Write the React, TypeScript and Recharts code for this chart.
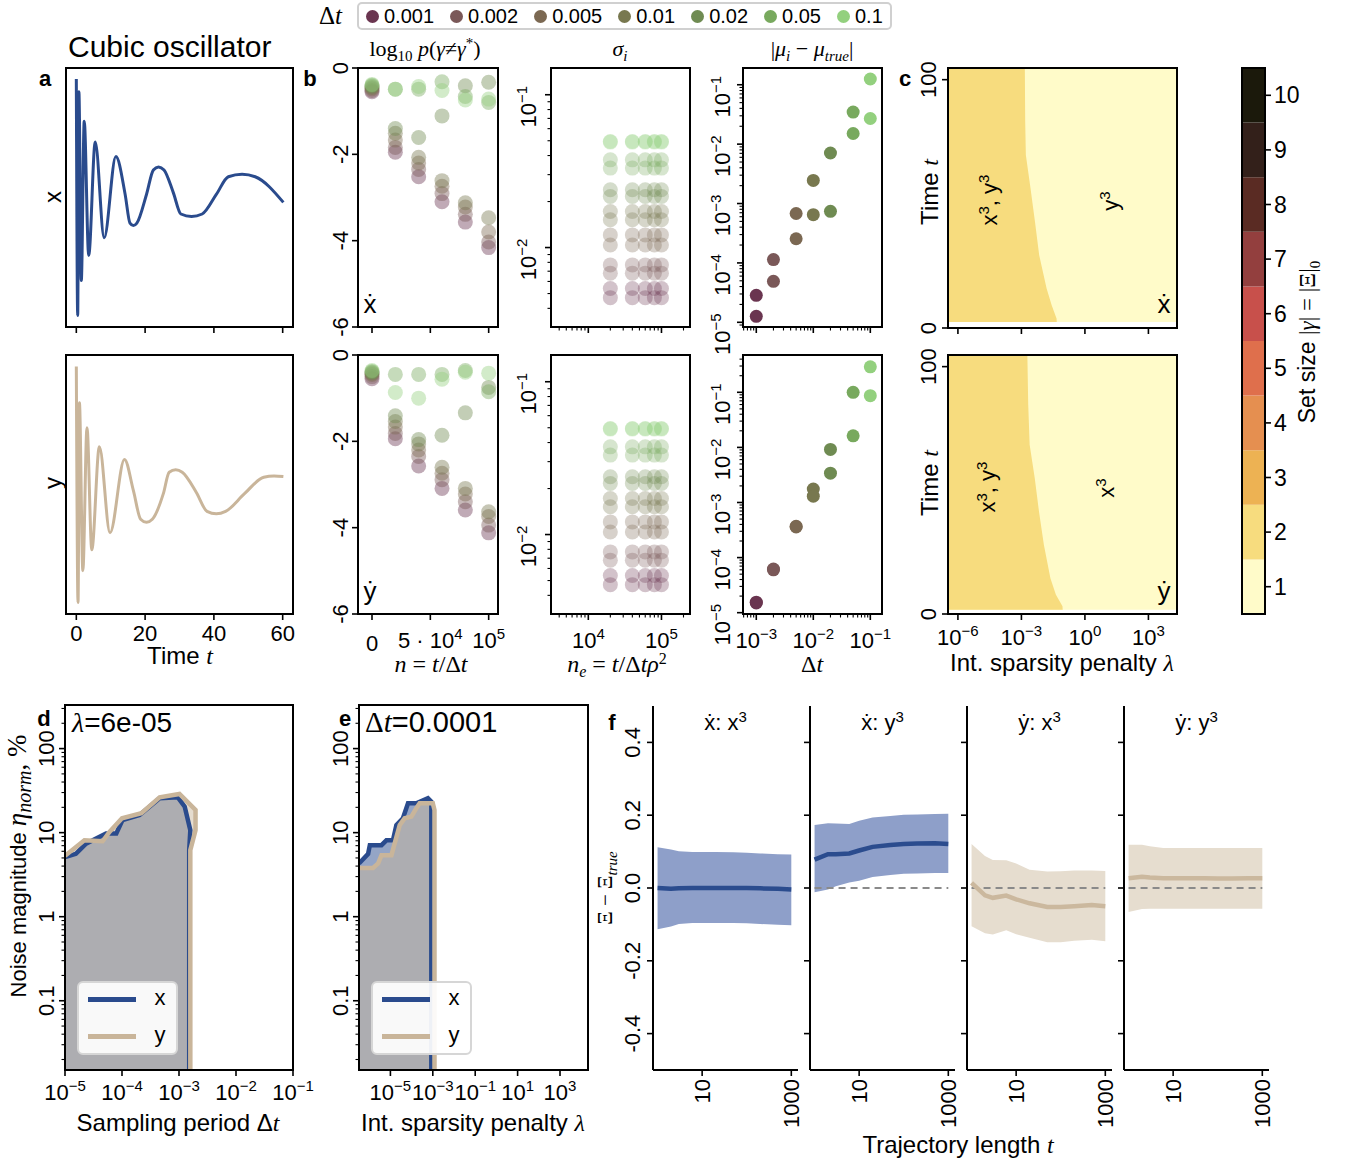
import React from 'react';
import {
  LineChart, Line, XAxis, YAxis, ScatterChart, Scatter, ComposedChart, Area,
  BarChart, Bar, Legend, ReferenceLine,
} from 'recharts';

const SANS = "'Liberation Sans', Arial, Helvetica, 'DejaVu Sans', sans-serif";
const SERIF = "'Liberation Serif', 'DejaVu Serif', 'Times New Roman', serif";

// ================= DATA =================
// panel a: trajectories
const TIME_TICKS = [0, 20, 40, 60];
const TRAJ_X_T = [0, 0.4, 0.75, 1.45, 2.3, 3.6, 5.5, 8.1, 11.5, 14.2, 15.6, 16.6, 17.6, 20.4, 22.4, 23.9, 25.5, 28.2, 30.4, 33.5, 36.6, 40.7, 44.2, 48.2, 52.0, 60.2];
const TRAJ_X_V = [1.94, -1.93, 1.73, -1.36, 1.25, -0.95, 0.91, -0.66, 0.67, 0.05, -0.42, -0.46, -0.42, 0.05, 0.45, 0.5, 0.45, 0.08, -0.27, -0.31, -0.27, 0.05, 0.34, 0.38, 0.34, -0.08];
const TRAJ_Y_T = [0, 0.5, 0.9, 1.9, 3.1, 4.5, 6.7, 9.8, 14.0, 16.6, 18.7, 20.4, 22.1, 25.3, 27.0, 28.9, 30.8, 34.9, 38.0, 40.7, 43.4, 48.9, 54.5, 57.5, 60.2];
const TRAJ_Y_V = [1.93, -1.93, 1.34, -1.41, 0.93, -1.07, 0.62, -0.79, 0.41, -0.1, -0.57, -0.62, -0.57, -0.15, 0.2, 0.24, 0.2, -0.13, -0.44, -0.48, -0.44, -0.15, 0.12, 0.14, 0.13];

// sampling periods
const DT_VALUES = [0.001, 0.002, 0.005, 0.01, 0.02, 0.05, 0.1];
const DT_LABELS = ['0.001', '0.002', '0.005', '0.01', '0.02', '0.05', '0.1'];
const DT_COLORS = ['#6a3550', '#7a5858', '#7b6852', '#78784f', '#6f8b52', '#78a95e', '#93d07e'];

// panel b: log10 p(gamma != gamma*)
const N_VALUES = [0, 20000, 40000, 60000, 80000, 100000];
const N_TICKS = [0, 50000, 100000];
const LOGP_TICKS = [0, -2, -4, -6];
const LOGP_XDOT = [
  [-0.55, -1.95, -2.52, -3.1, -3.57, -4.16],
  [-0.52, -1.84, -2.35, -2.91, -3.39, -4.03],
  [-0.48, -1.67, -2.2, -2.74, -3.22, -3.8],
  [-0.45, -1.51, -2.07, -2.61, -3.12, -3.47],
  [-0.42, -1.4, -1.61, -1.11, -0.41, -0.33],
  [-0.4, -0.49, -0.49, -0.32, -0.66, -0.8],
  [-0.38, -0.49, -0.43, -0.52, -0.74, -0.72],
];
const LOGP_YDOT = [
  [-0.55, -1.94, -2.57, -3.09, -3.59, -4.12],
  [-0.5, -1.82, -2.35, -2.89, -3.4, -3.94],
  [-0.45, -1.67, -2.2, -2.74, -3.22, -3.74],
  [-0.42, -1.54, -2.06, -2.6, -3.09, -3.63],
  [-0.4, -1.41, -1.96, -1.86, -1.34, -0.75],
  [-0.38, -0.45, -0.45, -0.45, -0.36, -0.85],
  [-0.36, -0.87, -1.0, -0.56, -0.4, -0.42],
];

// sigma_i
const NE_VALUES = [20000, 40000, 60000, 80000, 100000];
const SIGMA_XDOT = [
  [0.0054, 0.0047], [0.0077, 0.0068], [0.0121, 0.0104], [0.0172, 0.0152],
  [0.0239, 0.0216], [0.0375, 0.0331], [0.0494, 0.049],
];
const SIGMA_YDOT = [
  [0.0054, 0.0047], [0.0077, 0.0068], [0.0121, 0.0104], [0.0172, 0.0152],
  [0.0239, 0.0216], [0.0375, 0.0331], [0.0494, 0.049],
];

// |mu_i - mu_true|
const MU_XDOT = [
  [2.85e-5, 1.26e-5], [1.14e-4, 4.9e-5], [6.8e-4, 2.55e-4], [2.45e-3, 6.5e-4],
  [7.1e-3, 7.4e-4], [0.0346, 0.0151], [0.125, 0.027],
];
const MU_YDOT = [
  [1.55e-5, 1.5e-5], [6.2e-5, 6.0e-5], [3.7e-4, 3.6e-4], [1.75e-3, 1.3e-3],
  [9.2e-3, 3.4e-3], [0.1, 0.0162], [0.29, 0.087],
];

// panel c: set-size maps
const LAMBDA_RANGE = [3.4e-7, 2.24e4];
const LAMBDA_TICKS = [1e-6, 1e-3, 1, 1e3];
const T_MAX = 104.7;
const T_TICKS = [0, 100];
const BOUND_XDOT_LAMBDA = [3.4e-7, 1.45e-3, 1.51e-3, 1.62e-3, 2.69e-3, 4.37e-3, 6.92e-3, 1.55e-2, 2.69e-2, 4.57e-2, 4.68e-2];
const BOUND_XDOT_T = [104.7, 104.7, 83.2, 69.7, 56.3, 42.8, 29.3, 15.9, 9.2, 3.8, 2.4];
const T_START_XDOT = 2.4;
const BOUND_YDOT_LAMBDA = [3.4e-7, 1.91e-3, 2.09e-3, 2.45e-3, 4.27e-3, 6.76e-3, 1.15e-2, 2.34e-2, 4.27e-2, 8.71e-2, 8.91e-2];
const BOUND_YDOT_T = [104.7, 104.7, 85, 68.4, 54.9, 41.4, 28.0, 14.5, 7.8, 3.1, 1.7];
const T_START_YDOT = 1.7;
const SET_SIZES = [1, 2, 3, 4, 5, 6, 7, 8, 9, 10];
const SET_COLORS = ['#fffbc9', '#f7dc7e', '#edb253', '#e58f50', '#df6f4c', '#c8504b', '#933f3e', '#5a2b23', '#33201a', '#1b190b'];

// panels d / e
const XY_NAMES = ['x', 'y'];
const XY_COLORS = ['#2a4b8d', '#c9b59a'];
const ETA_RANGE = [0.015, 330];
const D_DT_RANGE = [1e-5, 1e-1];
const D_DT_X = [1e-5, 1.55e-5, 2.34e-5, 5.25e-5, 7.94e-5, 1.02e-4, 2.04e-4, 4.57e-4, 9.55e-4, 1.26e-3, 1.58e-3, 1.51e-3, 1.51e-3];
const D_ETA_X = [5.1, 5.6, 7.4, 9.8, 9.8, 14.1, 16.2, 25.7, 26.3, 20.4, 10.7, 6.2, 0.015];
const D_DT_Y = [1e-5, 2.19e-5, 4.57e-5, 6.03e-5, 1e-4, 2.19e-4, 4.57e-4, 1.02e-3, 1.95e-3, 1.95e-3, 1.58e-3, 1.58e-3];
const D_ETA_Y = [5.3, 8.1, 7.9, 10.2, 14.8, 17.0, 26.3, 28.8, 18.6, 10.7, 6.2, 0.015];
const E_LAMBDA_RANGE = [3.3e-7, 2.09e4];
const E_LAMBDA_TICKS = [1e-5, 1e-3, 1e-1, 1e1, 1e3];
const E_LAM_X = [3.3e-7, 8.9e-7, 1.07e-6, 3.8e-6, 6.46e-6, 1.32e-5, 1.91e-5, 3.89e-5, 6.76e-5, 1.66e-4, 5.89e-4, 8.51e-4, 8.51e-4];
const E_ETA_X = [4.3, 5.6, 7.1, 7.1, 8.1, 8.1, 12.3, 14.8, 22.4, 22.4, 25.7, 23.4, 0.015];
const E_LAM_Y = [3.3e-7, 1.51e-6, 2.63e-6, 3.8e-6, 1.12e-5, 2.75e-5, 4.68e-5, 9.77e-5, 1.66e-4, 2.4e-4, 1e-3, 1.2e-3, 1.2e-3];
const E_ETA_Y = [3.8, 3.8, 4.3, 5.4, 5.4, 12.3, 14.8, 15.5, 19.5, 22.4, 22.4, 18.6, 0.015];

// panel f
const TRAJ_LEN = [1, 2, 3, 6, 10, 20, 50, 100, 200, 500, 1000];
const TRAJ_LEN_RANGE = [0.79, 1413];
const TRAJ_LEN_TICKS = [10, 1000];
const DEV_TICKS = [-0.4, -0.2, 0, 0.2, 0.4];
const F_TITLE_EQ = ['ẋ', 'ẋ', 'ẏ', 'ẏ'];
const F_TITLE_TERM = ['x', 'y', 'x', 'y'];
const XDOT_X3_MEAN = [0.0, -0.002, -0.001, 0.0, 0.0, 0.0, 0.0, 0.0, -0.001, -0.002, -0.004];
const XDOT_X3_LO = [-0.113, -0.106, -0.099, -0.096, -0.096, -0.096, -0.096, -0.097, -0.099, -0.101, -0.102];
const XDOT_X3_HI = [0.112, 0.106, 0.101, 0.099, 0.099, 0.099, 0.098, 0.097, 0.095, 0.093, 0.092];
const XDOT_Y3_MEAN = [0.078, 0.093, 0.093, 0.095, 0.103, 0.113, 0.118, 0.121, 0.122, 0.123, 0.121];
const XDOT_Y3_LO = [-0.012, -0.004, 0.005, 0.015, 0.02, 0.03, 0.036, 0.039, 0.04, 0.041, 0.041];
const XDOT_Y3_HI = [0.173, 0.178, 0.177, 0.176, 0.185, 0.194, 0.198, 0.201, 0.202, 0.203, 0.204];
const YDOT_X3_MEAN = [0.014, -0.02, -0.027, -0.021, -0.031, -0.042, -0.052, -0.052, -0.05, -0.047, -0.05];
const YDOT_X3_LO = [-0.105, -0.124, -0.128, -0.116, -0.127, -0.137, -0.149, -0.149, -0.145, -0.142, -0.146];
const YDOT_X3_HI = [0.121, 0.088, 0.077, 0.076, 0.067, 0.05, 0.045, 0.046, 0.048, 0.048, 0.047];
const YDOT_Y3_MEAN = [0.027, 0.031, 0.029, 0.027, 0.027, 0.027, 0.027, 0.026, 0.026, 0.027, 0.027];
const YDOT_Y3_LO = [-0.066, -0.058, -0.057, -0.057, -0.057, -0.057, -0.057, -0.057, -0.057, -0.057, -0.057];
const YDOT_Y3_HI = [0.119, 0.119, 0.115, 0.11, 0.11, 0.11, 0.11, 0.11, 0.11, 0.11, 0.11];

// ================= LAYOUT =================
type Box = { x0: number; y0: number; x1: number; y1: number };
const BOXES: Record<string, Box> = {
  aTop: { x0: 66, y0: 68, x1: 293, y1: 327 },
  aBot: { x0: 66, y0: 355, x1: 293, y1: 614 },
  bTop: { x0: 358, y0: 68, x1: 498, y1: 327 },
  bBot: { x0: 358, y0: 355, x1: 498, y1: 614 },
  sTop: { x0: 551, y0: 68, x1: 690, y1: 327 },
  sBot: { x0: 551, y0: 355, x1: 690, y1: 614 },
  mTop: { x0: 743, y0: 68, x1: 882, y1: 327 },
  mBot: { x0: 743, y0: 355, x1: 882, y1: 614 },
  cTop: { x0: 948, y0: 68, x1: 1177, y1: 328 },
  cBot: { x0: 948, y0: 355, x1: 1177, y1: 614 },
  cbar: { x0: 1242, y0: 68, x1: 1265, y1: 614 },
  d: { x0: 65, y0: 705, x1: 293, y1: 1070 },
  e: { x0: 359, y0: 705, x1: 588, y1: 1070 },
};
const F_LEFTS = [653, 810, 967, 1124];
const F_W = 145;
const F_Y0 = 706;
const F_Y1 = 1070;

const MT = 10;
const MR = 30;
function geom(b: Box, yw: number, xh: number) {
  return {
    left: b.x0 - yw,
    top: b.y0 - MT,
    width: b.x1 - b.x0 + yw + MR,
    height: b.y1 - b.y0 + MT + xh,
    margin: { top: MT, right: MR, bottom: 0, left: 0 },
  };
}
const pos = (g: any): React.CSSProperties => ({ position: 'absolute', left: g.left, top: g.top });

const L10 = (v: number) => Math.log10(v);
const isInt = (v: number) => Math.abs(v - Math.round(v)) < 1e-6;
function logTicks(lo: number, hi: number, minor = true) {
  const out: number[] = [];
  for (let d = Math.floor(lo); d <= Math.ceil(hi); d++) {
    const ks = minor ? [1, 2, 3, 4, 5, 6, 7, 8, 9] : [1];
    for (const k of ks) {
      const v = d + Math.log10(k);
      if (v >= lo - 1e-9 && v <= hi + 1e-9) out.push(v);
    }
  }
  return out;
}

const TICK_FS = 22;
function expLabel(e: number) {
  const s = e < 0 ? `\u2212${-e}` : `${e}`;
  return [<tspan key="m">10</tspan>, <tspan key="e" dy={-9} fontSize={15}>{s}</tspan>];
}

function leftTick(opt: { major?: (v: number) => boolean; label?: (v: number) => any; dx: number; dy?: number; fs?: number }) {
  return (p: any) => {
    const v = p.payload.value;
    const maj = opt.major ? opt.major(v) : true;
    const L = maj ? 6 : 3.5;
    const lab = maj && opt.label ? opt.label(v) : null;
    const fs = opt.fs ?? TICK_FS;
    const tx = p.x - opt.dx;
    const ty = p.y + (opt.dy ?? 0);
    return (
      <g>
        <line x1={p.x} x2={p.x - L} y1={p.y} y2={p.y} stroke="#000" strokeWidth={maj ? 1.6 : 1.1} />
        {lab != null && (
          <text x={tx} y={ty + fs * 0.35} transform={`rotate(-90 ${tx} ${ty})`} textAnchor="middle" fontFamily={SANS} fontSize={fs} fill="#000">{lab}</text>
        )}
      </g>
    );
  };
}

function bottomTick(opt: { major?: (v: number) => boolean; label?: (v: number) => any; dy: number; fs?: number; rotate?: boolean }) {
  return (p: any) => {
    const v = p.payload.value;
    const maj = opt.major ? opt.major(v) : true;
    const L = maj ? 6 : 3.5;
    const lab = maj && opt.label ? opt.label(v) : null;
    const fs = opt.fs ?? TICK_FS;
    const ty = p.y + opt.dy;
    return (
      <g>
        <line x1={p.x} x2={p.x} y1={p.y} y2={p.y + L} stroke="#000" strokeWidth={maj ? 1.6 : 1.1} />
        {lab != null && !opt.rotate && (
          <text x={p.x} y={ty + fs * 0.35} textAnchor="middle" fontFamily={SANS} fontSize={fs} fill="#000">{lab}</text>
        )}
        {lab != null && opt.rotate && (
          <text x={p.x} y={ty + fs * 0.35} transform={`rotate(-90 ${p.x} ${ty})`} textAnchor="end" fontFamily={SANS} fontSize={fs} fill="#000">{lab}</text>
        )}
      </g>
    );
  };
}

function rightTick(p: any) {
  const fs = 23;
  return (
    <g>
      <line x1={p.x} x2={p.x + 6} y1={p.y} y2={p.y} stroke="#000" strokeWidth={1.6} />
      <text x={p.x + 9} y={p.y + fs * 0.35} textAnchor="start" fontFamily={SANS} fontSize={fs} fill="#000">{Math.round(p.payload.value + 0.5)}</text>
    </g>
  );
}

const axisCommon = { axisLine: false, tickLine: false, tickSize: 0, tickMargin: 0, interval: 0 as const, allowDataOverflow: true };

const dotShape = (r: number, color: string, op: number) => (p: any) => (
  <circle cx={p.cx} cy={p.cy} r={r} fill={color} fillOpacity={op} />
);

// ================= LEGENDS =================
function DtLegend() {
  return (
    <div style={{ display: 'flex', alignItems: 'center', fontFamily: SANS, color: '#000' }}>
      <div style={{ fontFamily: SERIF, fontSize: 25, width: 38 }}>Δ<i>t</i></div>
      <div style={{ display: 'flex', alignItems: 'center', border: '2px solid #d0d0d0', borderRadius: 5, padding: '1px 7px', background: '#fff' }}>
        {DT_LABELS.map((l, i) => (
          <div key={l} style={{ display: 'flex', alignItems: 'center', marginLeft: i ? 16 : 0 }}>
            <svg width={13} height={13} style={{ display: 'block' }}><circle cx={6.5} cy={6.5} r={6.5} fill={DT_COLORS[i]} /></svg>
            <span style={{ fontSize: 20, marginLeft: 5, lineHeight: '22px' }}>{l}</span>
          </div>
        ))}
      </div>
    </div>
  );
}

function XYLegend() {
  return (
    <div style={{ position: 'relative', width: 101, height: 74, boxSizing: 'border-box', border: '2px solid #d6d6d6', borderRadius: 6, background: 'rgba(255,255,255,0.92)', fontFamily: SANS, fontSize: 22, color: '#000' }}>
      {XY_NAMES.map((n, i) => (
        <React.Fragment key={n}>
          <div style={{ position: 'absolute', left: 9, top: 16 + i * 37 - 2.5, width: 48, height: 5, background: XY_COLORS[i] }} />
          <div style={{ position: 'absolute', left: 73, top: 16 + i * 37 - 14, width: 16, textAlign: 'center', lineHeight: '26px' }}>{n}</div>
        </React.Fragment>
      ))}
    </div>
  );
}

// ================= PANELS =================
function TrajPanel({ box, ts, vs, color, showLabels }: any) {
  const g = geom(box, 0, 45);
  const data = ts.map((t: number, i: number) => ({ t, v: vs[i] }));
  return (
    <div style={pos(g)}>
      <LineChart width={g.width} height={g.height} margin={g.margin} data={data}>
        <XAxis type="number" dataKey="t" domain={[-3, 63]} ticks={TIME_TICKS} height={45} {...axisCommon}
          tick={bottomTick({ label: showLabels ? (x: number) => `${x}` : undefined, dy: 19 })} />
        <YAxis hide type="number" domain={[-2.12, 2.12]} allowDataOverflow />
        <Line type="monotone" dataKey="v" stroke={color} strokeWidth={3} dot={false} isAnimationActive={false} />
      </LineChart>
    </div>
  );
}

const nLabel = (v: number) => {
  if (v === 0) return <tspan dy={3}>0</tspan>;
  if (v === 50000) return [<tspan key="a">5 · 10</tspan>, <tspan key="b" dy={-9} fontSize={15}>4</tspan>];
  return expLabel(5);
};

function LogPPanel({ box, series, bottom, legend }: any) {
  const g = geom(box, 50, 45);
  return (
    <div style={pos(g)}>
      <ScatterChart width={g.width} height={g.height} margin={g.margin}>
        <XAxis type="number" dataKey="x" domain={[-12000, 108000]} ticks={N_TICKS} height={45} {...axisCommon}
          tick={bottomTick({ label: bottom ? nLabel : undefined, dy: 26 })} />
        <YAxis type="number" dataKey="y" domain={[-6, 0]} ticks={LOGP_TICKS} width={50} {...axisCommon}
          tick={leftTick({ label: (v: number) => `${v}`, dx: 18 })} />
        {DT_VALUES.map((dt, k) => (
          <Scatter key={dt} data={N_VALUES.map((n, i) => ({ x: n, y: series[k][i] }))}
            shape={dotShape(7.5, DT_COLORS[k], 0.42)} isAnimationActive={false} />
        ))}
        {legend && (
          <Legend layout="vertical" align="center" verticalAlign="middle"
            wrapperStyle={{ left: 11, top: -56, width: 600, height: 30 }}
            content={() => <DtLegend />} />
        )}
      </ScatterChart>
    </div>
  );
}

const S_X_DOM: [number, number] = [3.49, 5.39];
const S_Y_DOM: [number, number] = [-2.52, -0.825];
function SigmaPanel({ box, series, bottom }: any) {
  const g = geom(box, 50, 45);
  return (
    <div style={pos(g)}>
      <ScatterChart width={g.width} height={g.height} margin={g.margin}>
        <XAxis type="number" dataKey="x" domain={S_X_DOM} ticks={logTicks(S_X_DOM[0], S_X_DOM[1])} height={45} {...axisCommon}
          tick={bottomTick({ major: isInt, label: bottom ? (v: number) => expLabel(Math.round(v)) : undefined, dy: 26 })} />
        <YAxis type="number" dataKey="y" domain={S_Y_DOM} ticks={logTicks(S_Y_DOM[0], S_Y_DOM[1])} width={50} {...axisCommon}
          tick={leftTick({ major: isInt, label: (v: number) => expLabel(Math.round(v)), dx: 23, dy: 12 })} />
        {DT_VALUES.map((dt, k) => (
          <Scatter key={dt}
            data={NE_VALUES.flatMap((ne) => series[k].map((s: number) => ({ x: L10(ne), y: L10(s) })))}
            shape={dotShape(7.5, DT_COLORS[k], 0.3)} isAnimationActive={false} />
        ))}
      </ScatterChart>
    </div>
  );
}

const M_X_DOM: [number, number] = [-3.233, -0.795];
function MuPanel({ box, series, yDom, bottom }: any) {
  const g = geom(box, 50, 45);
  return (
    <div style={pos(g)}>
      <ScatterChart width={g.width} height={g.height} margin={g.margin}>
        <XAxis type="number" dataKey="x" domain={M_X_DOM} ticks={logTicks(M_X_DOM[0], M_X_DOM[1])} height={45} {...axisCommon}
          tick={bottomTick({ major: isInt, label: bottom ? (v: number) => expLabel(Math.round(v)) : undefined, dy: 26 })} />
        <YAxis type="number" dataKey="y" domain={yDom} ticks={logTicks(yDom[0], yDom[1])} width={50} {...axisCommon}
          tick={leftTick({ major: isInt, label: (v: number) => expLabel(Math.round(v)), dx: 21, dy: 12 })} />
        {DT_VALUES.map((dt, k) => (
          <Scatter key={dt}
            data={series[k].map((m: number) => ({ x: L10(dt), y: L10(m) }))}
            shape={dotShape(6.5, DT_COLORS[k], 1)} isAnimationActive={false} />
        ))}
      </ScatterChart>
    </div>
  );
}

function SetSizePanel({ box, lams, ts, tStart, bottom }: any) {
  const g = geom(box, 40, 45);
  const lo = L10(LAMBDA_RANGE[0]);
  const hi = L10(LAMBDA_RANGE[1]);
  const bg = [{ l: lo, t: T_MAX }, { l: hi, t: T_MAX }];
  const region = lams.map((lam: number, i: number) => ({ l: L10(lam), t: ts[i] }));
  return (
    <div style={pos(g)}>
      <ComposedChart width={g.width} height={g.height} margin={g.margin}>
        <XAxis type="number" dataKey="l" domain={[lo, hi]} ticks={LAMBDA_TICKS.map(L10)} height={45} {...axisCommon}
          tick={bottomTick({ label: bottom ? (v: number) => expLabel(Math.round(v)) : undefined, dy: 23 })} />
        <YAxis type="number" dataKey="t" domain={[0, T_MAX]} ticks={T_TICKS} width={40} {...axisCommon}
          tick={leftTick({ label: (v: number) => `${v}`, dx: 20 })} />
        <Area data={bg} dataKey="t" type="linear" baseValue={tStart} fill={SET_COLORS[0]} fillOpacity={1} stroke="none" isAnimationActive={false} />
        <Area data={region} dataKey="t" type="linear" baseValue={tStart} fill={SET_COLORS[1]} fillOpacity={1} stroke="none" isAnimationActive={false} />
      </ComposedChart>
    </div>
  );
}

function ColorBar() {
  const b = BOXES.cbar;
  const row: any = { name: 'set size' };
  SET_SIZES.forEach((s) => { row[`l${s}`] = 1; });
  return (
    <div style={{ position: 'absolute', left: b.x0, top: b.y0 - MT }}>
      <BarChart width={b.x1 - b.x0 + 50} height={b.y1 - b.y0 + MT + 2} data={[row]} margin={{ top: MT, right: 0, bottom: 2, left: 0 }} barCategoryGap={0} barGap={0}>
        <XAxis dataKey="name" type="category" hide />
        <YAxis orientation="right" type="number" domain={[0, SET_SIZES.length]} ticks={SET_SIZES.map((s) => s - 0.5)} width={50} {...axisCommon} tick={rightTick} />
        {SET_SIZES.map((s, i) => (
          <Bar key={s} dataKey={`l${s}`} stackId="cb" fill={SET_COLORS[i]} isAnimationActive={false} />
        ))}
      </BarChart>
    </div>
  );
}

const ETA_DOM: [number, number] = [L10(ETA_RANGE[0]), L10(ETA_RANGE[1])];
const etaLabel = (v: number) => ['0.1', '1', '10', '100'][Math.round(v) + 1];
function NoisePanel({ box, xDom, xTicks, xs1, ys1, xs2, ys2 }: any) {
  const g = geom(box, 50, 40);
  const d1 = xs1.map((x: number, i: number) => ({ lx: L10(x), ly: L10(ys1[i]) }));
  const d2 = xs2.map((x: number, i: number) => ({ lx: L10(x), ly: L10(ys2[i]) }));
  const legendLeft = box.x0 + 12 - g.left;
  const legendTop = 981 - g.top;
  return (
    <div style={pos(g)}>
      <ComposedChart width={g.width} height={g.height} margin={g.margin}>
        <XAxis type="number" dataKey="lx" domain={xDom} ticks={xTicks} height={40} {...axisCommon}
          tick={bottomTick({ label: (v: number) => expLabel(Math.round(v)), dy: 22 })} />
        <YAxis type="number" dataKey="ly" domain={ETA_DOM} ticks={logTicks(ETA_DOM[0], ETA_DOM[1])} width={50} {...axisCommon}
          tick={leftTick({ major: isInt, label: etaLabel, dx: 19 })} />
        <Area data={d1} dataKey="ly" type="linear" baseValue={ETA_DOM[0]} fill={XY_COLORS[0]} fillOpacity={0.5} stroke="none" isAnimationActive={false} />
        <Area data={d2} dataKey="ly" type="linear" baseValue={ETA_DOM[0]} fill={XY_COLORS[1]} fillOpacity={0.48} stroke="none" isAnimationActive={false} />
        <Line data={d1} dataKey="ly" type="linear" stroke={XY_COLORS[0]} strokeWidth={4.5} dot={false} isAnimationActive={false} />
        <Line data={d2} dataKey="ly" type="linear" stroke={XY_COLORS[1]} strokeWidth={4.5} dot={false} isAnimationActive={false} />
        <Legend layout="vertical" align="center" verticalAlign="middle"
          wrapperStyle={{ left: legendLeft, top: legendTop, width: 101, height: 74 }}
          content={() => <XYLegend />} />
      </ComposedChart>
    </div>
  );
}

const F_SERIES = [
  { mean: XDOT_X3_MEAN, lo: XDOT_X3_LO, hi: XDOT_X3_HI, line: '#2b4c8e', band: '#8e9fc9' },
  { mean: XDOT_Y3_MEAN, lo: XDOT_Y3_LO, hi: XDOT_Y3_HI, line: '#2b4c8e', band: '#8e9fc9' },
  { mean: YDOT_X3_MEAN, lo: YDOT_X3_LO, hi: YDOT_X3_HI, line: '#cbb89e', band: '#e6ddcf' },
  { mean: YDOT_Y3_MEAN, lo: YDOT_Y3_LO, hi: YDOT_Y3_HI, line: '#cbb89e', band: '#e6ddcf' },
];
function DevPanel({ idx }: any) {
  const box: Box = { x0: F_LEFTS[idx], y0: F_Y0, x1: F_LEFTS[idx] + F_W, y1: F_Y1 };
  const g = geom(box, 50, 70);
  const s = F_SERIES[idx];
  const data = TRAJ_LEN.map((t, j) => ({ lt: L10(t), band: [s.lo[j], s.hi[j]], m: s.mean[j] }));
  const t0 = L10(TRAJ_LEN[0]);
  const t1 = L10(TRAJ_LEN[TRAJ_LEN.length - 1]);
  return (
    <div style={pos(g)}>
      <ComposedChart width={g.width} height={g.height} margin={g.margin} data={data}>
        <XAxis type="number" dataKey="lt" domain={[L10(TRAJ_LEN_RANGE[0]), L10(TRAJ_LEN_RANGE[1])]} ticks={TRAJ_LEN_TICKS.map(L10)} height={70} {...axisCommon}
          tick={bottomTick({ label: (v: number) => `${Math.round(Math.pow(10, v))}`, dy: 9, rotate: true })} />
        <YAxis type="number" domain={[-0.5, 0.5]} ticks={DEV_TICKS} width={50} {...axisCommon}
          tick={leftTick({ label: idx === 0 ? (v: number) => v.toFixed(1) : undefined, dx: 21 })} />
        <Area dataKey="band" type="linear" fill={s.band} fillOpacity={1} stroke="none" isAnimationActive={false} />
        {idx > 0 && (
          <ReferenceLine segment={[{ x: t0, y: 0 }, { x: t1, y: 0 }]} stroke="#8a8a8a" strokeWidth={1.8} strokeDasharray="7 5" />
        )}
        <Line dataKey="m" type="linear" stroke={s.line} strokeWidth={4.5} dot={false} isAnimationActive={false} />
      </ComposedChart>
    </div>
  );
}

// ================= OVERLAY (frames + text) =================
function T({ x, y, fs = 24, anchor = 'middle', rot = false, family = SANS, weight, children }: any) {
  return (
    <text x={x} y={y + fs * 0.35} textAnchor={anchor} fontFamily={family} fontSize={fs} fontWeight={weight}
      transform={rot ? `rotate(-90 ${x} ${y})` : undefined} fill="#000">{children}</text>
  );
}
const I = ({ children }: any) => <tspan fontFamily={SERIF} fontStyle="italic">{children}</tspan>;
const Cube = ({ v }: any) => (<>{v}<tspan dy={-8} fontSize={15}>3</tspan><tspan dy={8}>{''}</tspan></>);

function Overlay() {
  const frames = ['aTop', 'aBot', 'bTop', 'bBot', 'sTop', 'sBot', 'mTop', 'mBot', 'cTop', 'cBot', 'cbar', 'd', 'e'];
  return (
    <svg width={1348} height={1163} style={{ position: 'absolute', left: 0, top: 0, pointerEvents: 'none' }}>
      {frames.map((k) => {
        const b = BOXES[k];
        return <rect key={k} x={b.x0} y={b.y0} width={b.x1 - b.x0} height={b.y1 - b.y0} fill="none" stroke="#000" strokeWidth={2} />;
      })}
      {F_LEFTS.map((x) => (
        <g key={x}>
          <line x1={x} x2={x} y1={F_Y0} y2={F_Y1} stroke="#000" strokeWidth={2} />
          <line x1={x} x2={x + F_W} y1={F_Y1} y2={F_Y1} stroke="#000" strokeWidth={2} />
        </g>
      ))}

      {/* titles & panel letters */}
      <T x={68} y={46} fs={30} anchor="start">Cubic oscillator</T>
      <T x={45} y={78} fs={22} weight="bold">a</T>
      <T x={310} y={78} fs={22} weight="bold">b</T>
      <T x={905} y={78} fs={22} weight="bold">c</T>
      <T x={44} y={718} fs={22} weight="bold">d</T>
      <T x={345} y={718} fs={22} weight="bold">e</T>
      <T x={612} y={722} fs={22} weight="bold">f</T>

      {/* panel a */}
      <T x={53} y={197} rot>x</T>
      <T x={53} y={483} rot>y</T>
      <T x={180} y={656}>Time <I>t</I></T>

      {/* panel b titles */}
      <T x={425} y={48} fs={22} family={SERIF}>
        log<tspan dy={5} fontSize={15}>10</tspan><tspan dy={-5}> </tspan><tspan fontStyle="italic">p</tspan>(<tspan fontStyle="italic">γ</tspan>≠<tspan fontStyle="italic">γ</tspan><tspan dy={-8} fontSize={15}>*</tspan><tspan dy={8}>)</tspan>
      </T>
      <T x={620} y={48} fs={22} family={SERIF}>
        <tspan fontStyle="italic">σ</tspan><tspan dy={5} fontSize={15} fontStyle="italic">i</tspan>
      </T>
      <T x={812} y={48} fs={22} family={SERIF}>
        |<tspan fontStyle="italic">μ</tspan><tspan dy={5} fontSize={15} fontStyle="italic">i</tspan><tspan dy={-5}> − </tspan><tspan fontStyle="italic">μ</tspan><tspan dy={5} fontSize={15} fontStyle="italic">true</tspan><tspan dy={-5}>|</tspan>
      </T>
      <T x={370} y={304} fs={26}>ẋ</T>
      <T x={370} y={591} fs={26}>ẏ</T>
      <T x={431} y={664} fs={24} family={SERIF}><tspan fontStyle="italic">n</tspan> = <tspan fontStyle="italic">t</tspan>/Δ<tspan fontStyle="italic">t</tspan></T>
      <T x={617} y={664} fs={24} family={SERIF}>
        <tspan fontStyle="italic">n</tspan><tspan dy={5} fontSize={16} fontStyle="italic">e</tspan><tspan dy={-5}> = </tspan><tspan fontStyle="italic">t</tspan>/Δ<tspan fontStyle="italic">tρ</tspan><tspan dy={-8} fontSize={16}>2</tspan>
      </T>
      <T x={812} y={664} fs={24} family={SERIF}>Δ<tspan fontStyle="italic">t</tspan></T>

      {/* panel c */}
      <T x={930} y={192} rot>Time <I>t</I></T>
      <T x={930} y={483} rot>Time <I>t</I></T>
      <T x={989} y={200} fs={22} rot>x<tspan dy={-8} fontSize={15}>3</tspan><tspan dy={8}>, y</tspan><tspan dy={-8} fontSize={15}>3</tspan></T>
      <T x={1110} y={201} fs={22} rot>y<tspan dy={-8} fontSize={15}>3</tspan></T>
      <T x={1164} y={304} fs={26}>ẋ</T>
      <T x={987} y={487} fs={22} rot>x<tspan dy={-8} fontSize={15}>3</tspan><tspan dy={8}>, y</tspan><tspan dy={-8} fontSize={15}>3</tspan></T>
      <T x={1106} y={488} fs={22} rot>x<tspan dy={-8} fontSize={15}>3</tspan></T>
      <T x={1164} y={591} fs={26}>ẏ</T>
      <T x={1062} y={663}>Int. sparsity penalty <I>λ</I></T>
      <T x={1307} y={342} fs={23} rot>
        Set size <tspan fontFamily={SERIF}>|<tspan fontStyle="italic">γ</tspan>| = |Ξ|</tspan><tspan fontFamily={SERIF} fontSize={15} dy={5}>0</tspan>
      </T>

      {/* panels d, e */}
      <T x={18} y={866} fs={22} rot>
        Noise magnitude <tspan fontFamily={SERIF} fontStyle="italic" fontSize={27}>η</tspan><tspan fontFamily={SERIF} fontStyle="italic" fontSize={20} dy={5}>norm</tspan><tspan fontFamily={SERIF} fontSize={27} dy={-5}>, %</tspan>
      </T>
      <T x={178} y={1123}>Sampling period Δ<I>t</I></T>
      <T x={72} y={722} fs={28} anchor="start"><I>λ</I>=6e-05</T>
      <T x={473} y={1123}>Int. sparsity penalty <I>λ</I></T>
      <T x={365} y={722} fs={29} anchor="start"><tspan fontFamily={SERIF}>Δ</tspan><I>t</I>=0.0001</T>

      {/* panel f */}
      <T x={605} y={888} fs={21} family={SERIF} rot>
        Ξ − Ξ<tspan dy={5} fontSize={15} fontStyle="italic">true</tspan>
      </T>
      {F_TITLE_EQ.map((eq, i) => (
        <T key={i} x={F_LEFTS[i] + F_W / 2} y={722} fs={22}>{eq}: {F_TITLE_TERM[i]}<tspan dy={-8} fontSize={15}>3</tspan></T>
      ))}
      <T x={958} y={1145}>Trajectory length <I>t</I></T>
    </svg>
  );
}

export default function App() {
  return (
    <div style={{ position: 'absolute', left: 0, top: 0, width: 1348, height: 1163, background: '#fff', fontFamily: SANS, overflow: 'hidden' }}>
      <TrajPanel box={BOXES.aTop} ts={TRAJ_X_T} vs={TRAJ_X_V} color={XY_COLORS[0]} showLabels={false} />
      <TrajPanel box={BOXES.aBot} ts={TRAJ_Y_T} vs={TRAJ_Y_V} color={XY_COLORS[1]} showLabels />

      <LogPPanel box={BOXES.bTop} series={LOGP_XDOT} bottom={false} legend />
      <LogPPanel box={BOXES.bBot} series={LOGP_YDOT} bottom />

      <SigmaPanel box={BOXES.sTop} series={SIGMA_XDOT} bottom={false} />
      <SigmaPanel box={BOXES.sBot} series={SIGMA_YDOT} bottom />

      <MuPanel box={BOXES.mTop} series={MU_XDOT} yDom={[-5.079, -0.718]} bottom={false} />
      <MuPanel box={BOXES.mBot} series={MU_YDOT} yDom={[-5.024, -0.323]} bottom />

      <SetSizePanel box={BOXES.cTop} lams={BOUND_XDOT_LAMBDA} ts={BOUND_XDOT_T} tStart={T_START_XDOT} bottom={false} />
      <SetSizePanel box={BOXES.cBot} lams={BOUND_YDOT_LAMBDA} ts={BOUND_YDOT_T} tStart={T_START_YDOT} bottom />
      <ColorBar />

      <NoisePanel box={BOXES.d} xDom={D_DT_RANGE.map(L10)} xTicks={logTicks(-5, -1, false)}
        xs1={D_DT_X} ys1={D_ETA_X} xs2={D_DT_Y} ys2={D_ETA_Y} />
      <NoisePanel box={BOXES.e} xDom={E_LAMBDA_RANGE.map(L10)} xTicks={E_LAMBDA_TICKS.map(L10)}
        xs1={E_LAM_X} ys1={E_ETA_X} xs2={E_LAM_Y} ys2={E_ETA_Y} />

      {[0, 1, 2, 3].map((i) => <DevPanel key={i} idx={i} />)}

      <Overlay />
    </div>
  );
}
